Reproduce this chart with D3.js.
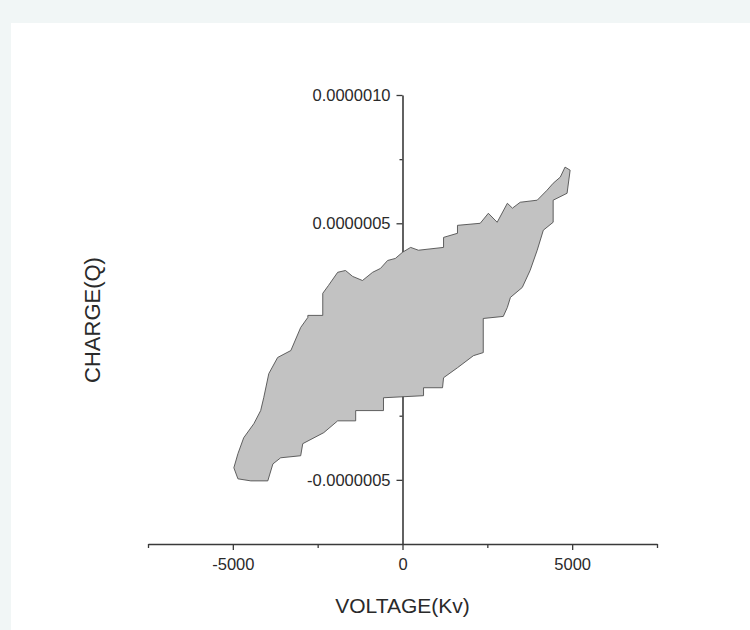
<!DOCTYPE html>
<meta charset="utf-8">
<style>
  body { margin: 0; background: #f1f6f6; }
  svg { display: block; }
  text { font-family: "Liberation Sans", Arial, sans-serif; fill: #2a2a2a; }
</style>
<svg width="750" height="630"></svg>
<script src="https://d3js.org/d3.v7.min.js"></script>
<script>

    // hysteresis loop outline (voltage in Kv, charge in Q)
    var voltage = [-4850, -4970, -4850, -4680, -4380, -4180, -4090, -3940, -3680, -3290,
        -3000, -2790, -2790, -2350, -2350, -2180, -1910, -1680, -1470, -1180,
        -880, -650, -440, -210, 0, 240, 470, 1210, 1210, 1620,
        1620, 2290, 2530, 2790, 3090, 3240, 3470, 3970, 4260, 4440,
        4650, 4790, 4940, 4850, 4440, 4440, 4150, 3970, 3760, 3530,
        3180, 3090, 2970, 2380, 2380, 2090, 1620, 1210, 1180, 620,
        620, -560, -560, -1380, -1380, -1910, -2320, -2940, -3000, -3590,
        -3820, -3970, -4470];
    var charge = [-4.96e-7, -4.53e-7, -3.98e-7, -3.36e-7, -2.81e-7, -2.30e-7, -1.80e-7, -0.86e-7, -0.23e-7, 0.04e-7,
        0.94e-7, 1.33e-7, 1.41e-7, 1.41e-7, 2.27e-7, 2.58e-7, 3.09e-7, 3.16e-7, 2.93e-7, 2.77e-7,
        3.09e-7, 3.24e-7, 3.55e-7, 3.63e-7, 3.87e-7, 4.06e-7, 3.95e-7, 4.06e-7, 4.45e-7, 4.61e-7,
        4.92e-7, 5.00e-7, 5.39e-7, 5.04e-7, 5.78e-7, 5.59e-7, 5.82e-7, 5.90e-7, 6.29e-7, 6.56e-7,
        6.80e-7, 7.19e-7, 7.07e-7, 6.17e-7, 5.90e-7, 5.04e-7, 4.73e-7, 3.95e-7, 3.16e-7, 2.50e-7,
        2.11e-7, 1.72e-7, 1.37e-7, 1.29e-7, -0.04e-7, -0.16e-7, -0.63e-7, -1.02e-7, -1.41e-7, -1.41e-7,
        -1.72e-7, -1.80e-7, -2.30e-7, -2.30e-7, -2.70e-7, -2.70e-7, -3.16e-7, -3.59e-7, -4.06e-7, -4.14e-7,
        -4.38e-7, -5.04e-7, -5.04e-7];

    var xMajor = [-5000, 0, 5000];
    var xMinor = [-7500, -2500, 2500, 7500];
    var yMajor = [-0.0000005, 0, 0.0000005, 0.000001];
    var yMinor = [-0.00000025, 0.00000025, 0.00000075];

    var svg = d3.select("svg");

    // white card on the page
    svg.append("rect")
        .attr("x", 11).attr("y", 23)
        .attr("width", 760).attr("height", 620)
        .attr("fill", "#fff");

    var x = d3.scaleLinear().domain([-7500, 7500]).range([148, 657]);
    var y = d3.scaleLinear().domain([-0.00000075, 0.000001]).range([544, 95]);

    var axisColor = "#3a3a3a";

    // x axis along the bottom of the frame
    var gx = svg.append("g").attr("transform", "translate(0," + y(-0.00000075) + ")");
    gx.call(d3.axisBottom(x).tickValues(xMajor).tickSize(6).tickSizeOuter(0).tickPadding(8)
        .tickFormat(function(d) { return String(d); }));
    gx.append("g").call(d3.axisBottom(x).tickValues(xMinor).tickSize(4).tickFormat(""))
        .select(".domain").remove();

    // y axis through zero volts
    var gy = svg.append("g").attr("transform", "translate(" + x(0) + ",0)");
    gy.call(d3.axisLeft(y).tickValues(yMajor).tickSize(6).tickSizeOuter(0).tickPadding(6)
        .tickFormat(function(d) { return d.toFixed(7); }));
    gy.append("g").call(d3.axisLeft(y).tickValues(yMinor).tickSize(3).tickFormat(""))
        .select(".domain").remove();

    svg.selectAll(".domain").attr("stroke", axisColor).attr("stroke-width", 1.6);
    svg.selectAll(".tick line").attr("stroke", axisColor).attr("stroke-width", 1.3);
    svg.selectAll(".tick text")
        .attr("fill", "#2a2a2a")
        .style("font-family", "'Liberation Sans', Arial, sans-serif")
        .style("font-size", "16.5px");

    // the loop itself, drawn over the axis
    var pts = d3.zip(voltage, charge);
    var line = d3.line()
        .x(function(d) { return x(d[0]); })
        .y(function(d) { return y(d[1]); })
        .curve(d3.curveLinearClosed);

    svg.append("path")
        .attr("d", line(pts))
        .attr("fill", "#c2c2c2")
        .attr("stroke", "#505050")
        .attr("stroke-width", 0.9)
        .attr("stroke-linejoin", "miter");

    // axis titles
    svg.append("text")
        .attr("x", x(0)).attr("y", 613)
        .attr("text-anchor", "middle")
        .style("font-size", "21px")
        .text("VOLTAGE(Kv)");

    svg.append("text")
        .attr("transform", "translate(100,320) rotate(-90)")
        .attr("text-anchor", "middle")
        .style("font-size", "22px")
        .text("CHARGE(Q)");
</script>
